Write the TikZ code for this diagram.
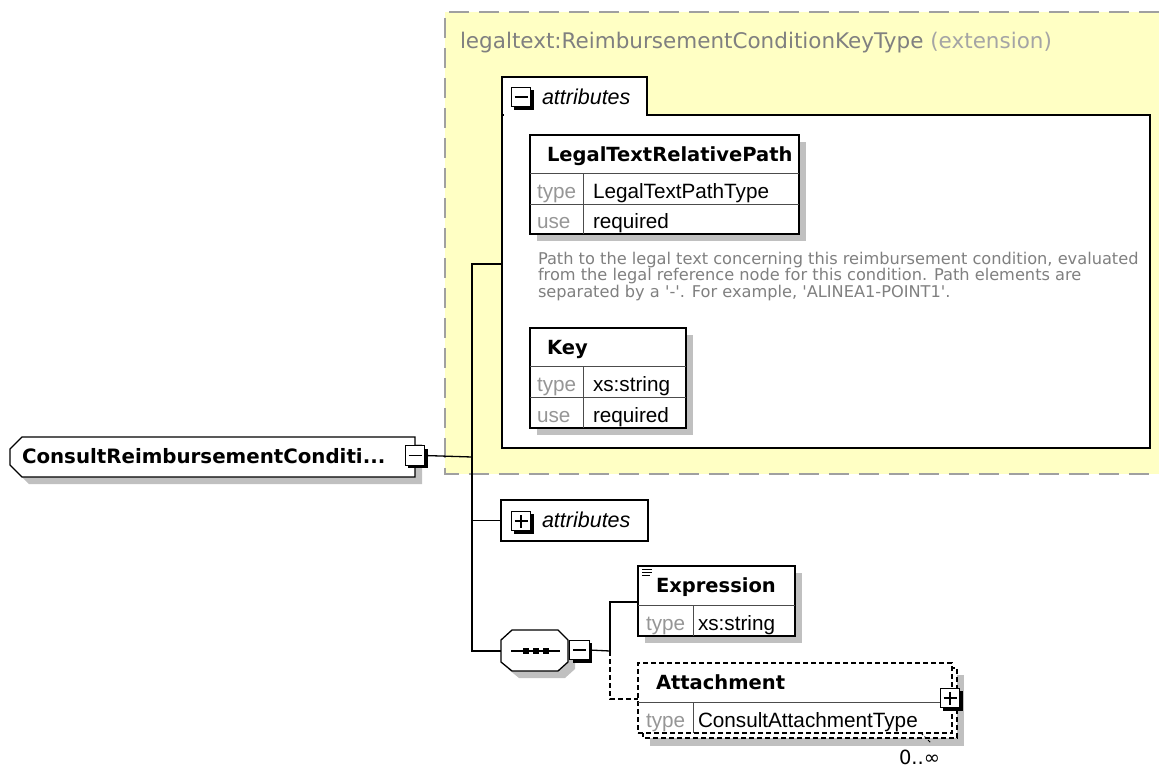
\documentclass[tikz,border=0pt]{standalone}
\usepackage{fontspec}
\setmainfont{DejaVu Sans}
\newfontfamily\cellfont{Liberation Sans}
\usetikzlibrary{positioning, shadows}
\definecolor{extyellow}{RGB}{255,255,196}
\definecolor{extborder}{RGB}{160,160,160}
\definecolor{boxshadow}{RGB}{192,192,192}
\definecolor{titlegray}{RGB}{128,128,128}
\definecolor{lightgray2}{RGB}{165,165,165}
\definecolor{notegray}{RGB}{128,128,128}
\definecolor{labelgray}{RGB}{150,150,150}

\begin{document}
\begin{tikzpicture}[x=1pt, y=-1pt,
      every node/.style={inner sep=0pt, outer sep=0pt},
      elemname/.style={font=\fontsize{19.5}{22}\selectfont\bfseries, anchor=base west},
      cell/.style={font=\cellfont\fontsize{20.7}{24}\selectfont, anchor=base west},
      celllabel/.style={cell, text=labelgray},
      attrlabel/.style={font=\cellfont\itshape\fontsize{21.5}{24}\selectfont, anchor=base west},
      note/.style={font=\fontsize{16.2}{16.5}\selectfont, text=notegray, align=left, anchor=north west},
      tbl/.style={draw=black, line width=1.3pt, fill=white, anchor=north west,
        drop shadow={shadow xshift=7pt, shadow yshift=-7pt, fill=boxshadow, opacity=1}},
      grp/.style={draw=black, line width=1.3pt, fill=white, anchor=north west},
      rowline/.style={draw=black!70, line width=1pt},
      conn/.style={draw=black, line width=1.3pt},
      optconn/.style={conn, dash pattern=on 5pt off 3pt},
      btn/.style={draw=black, line width=1.4pt, fill=white, minimum size=19.5pt,
        drop shadow={shadow xshift=3pt, shadow yshift=-3pt, fill=black, opacity=1}},
      minusbtn/.style={btn, path picture={
        \draw[line width=1.3pt] ([xshift=-6.5pt]path picture bounding box.center) -- ([xshift=6.5pt]path picture bounding box.center);}},
      plusbtn/.style={btn, path picture={
        \draw[line width=1.3pt] ([xshift=-6.5pt]path picture bounding box.center) -- ([xshift=6.5pt]path picture bounding box.center)
                                ([yshift=-6.5pt]path picture bounding box.center) -- ([yshift=6.5pt]path picture bounding box.center);}}
  ]
    \useasboundingbox (0,0) rectangle (1159,769);

    % extension area
    \fill[extyellow] (445,12) rectangle (1159,474);
    \draw[extborder, line width=1.5pt, dash pattern=on 20pt off 10pt] (1159,12) -- (445,12) -- (445,474) -- (1159,474);
    \node[anchor=base west, font=\fontsize{21.5}{24}\selectfont, text=titlegray] (exttitle) at (460,48)
      {legaltext:ReimbursementConditionKeyType \textcolor{lightgray2}{(extension)}};

    % attributes group with tab
    \draw[line width=1.3pt, fill=white] (502,115) -- (502,77) -- (647,77) -- (647,115);
    \node[grp, minimum width=648pt, minimum height=333pt] (attrgroup) at (502,115) {};
    \fill[white] (503.5,113) rectangle (645.5,117);
    \node[minusbtn] (attrbtn) at (521,97) {};
    \node[attrlabel] (attrtitle) at (542,104) {attributes};

    % LegalTextRelativePath
    \node[tbl, minimum width=269pt, minimum height=99pt] (ltrp) at (530,135) {};
    \draw[rowline] (530,173) -- (799,173) (530,204) -- (799,204) (583,173) -- (583,234);
    \node[elemname] (ltrpname) at (547,161) {LegalTextRelativePath};
    \node[celllabel] (ltrptype) at (537,198) {type};
    \node[cell] (ltrptypev) at (593,198) {LegalTextPathType};
    \node[celllabel] (ltrpuse) at (537,228) {use};
    \node[cell] (ltrpusev) at (593,228) {required};
    \node[note] (ltrpnote) at (538,252)
      {Path to the legal text concerning this reimbursement condition, evaluated\\
       from the legal reference node for this condition. Path elements are\\
       separated by a \textquotesingle-\textquotesingle. For example, \textquotesingle ALINEA1-POINT1\textquotesingle.};

    % Key
    \node[tbl, minimum width=156pt, minimum height=100pt] (key) at (530,328) {};
    \draw[rowline] (530,366) -- (686,366) (530,397) -- (686,397) (583,366) -- (583,428);
    \node[elemname] (keyname) at (547,354) {Key};
    \node[celllabel] (keytype) at (537,391) {type};
    \node[cell] (keytypev) at (593,391) {xs:string};
    \node[celllabel] (keyuse) at (537,422) {use};
    \node[cell] (keyusev) at (593,422) {required};

    % root element
    \fill[boxshadow] (29,444) -- (422,444) -- (422,484) -- (29,484) -- (17,472) -- (17,456) -- cycle;
    \draw[line width=1.3pt, fill=white] (22,437) -- (415,437) -- (415,477) -- (22,477) -- (10,465) -- (10,449) -- cycle;
    \node[elemname, font=\fontsize{19.8}{22}\selectfont\bfseries] (rootname) at (22,463) {ConsultReimbursementConditi...};
    \node[minusbtn] (rootbtn) at (415,455.5) {};

    % second attributes
    \node[grp, minimum width=147pt, minimum height=41pt] (attrb) at (501,500) {};
    \node[plusbtn] (attrbbtn) at (521,521) {};
    \node[attrlabel] (attrbtitle) at (542,527) {attributes};

    % sequence compositor
    \fill[boxshadow] (519,637) -- (565,637) -- (575,647) -- (575,669) -- (565,678) -- (519,678) -- (508,669) -- (508,647) -- cycle;
    \draw[line width=1.3pt, fill=white] (512,630) -- (558,630) -- (568,640) -- (568,662) -- (558,671) -- (512,671) -- (501,662) -- (501,640) -- cycle;
    \draw[line width=1.2pt] (511,651) -- (560,651);
    \foreach \x in {525.5,535.5,545.5} {
      \fill (\x-3,648) rectangle (\x+3,654);
    }
    \node[minusbtn] (seqbtn) at (579.5,650) {};

    % Expression
    \node[tbl, minimum width=157pt, minimum height=70pt] (expr) at (638,566) {};
    \draw[rowline] (638,605) -- (795,605) (693,605) -- (693,636);
    \draw[line width=0.8pt] (642,569) -- (652,569) (642,572) -- (652,572) (642,575) -- (650,575);
    \node[elemname] (exprname) at (656,592) {Expression};
    \node[celllabel] (exprtype) at (646,630) {type};
    \node[cell] (exprtypev) at (698,630) {xs:string};

    % Attachment (0..unbounded)
    \fill[boxshadow] (650,675) rectangle (964,746);
    \draw[line width=1.3pt, fill=white, dash pattern=on 5pt off 3pt] (643,668) rectangle (957,738);
    \node[grp, minimum width=314pt, minimum height=70pt, dash pattern=on 5pt off 3pt] (attach) at (638,663) {};
    \draw[rowline] (638,702) -- (940,702) (693,702) -- (693,733);
    \draw[line width=1pt, dash pattern=on 3pt off 2pt] (921,733) -- (931,743);
    \node[elemname] (attachname) at (656,689) {Attachment};
    \node[celllabel] (attachtype) at (646,727) {type};
    \node[cell] (attachtypev) at (698,727) {ConsultAttachmentType};
    \node[plusbtn] (attachbtn) at (950,698) {};
    \node[anchor=base west, font=\fontsize{19.5}{22}\selectfont] (attachocc) at (899,764) {0..∞};

    % connectors
    \coordinate (hub) at (472,457);
    \coordinate (attrin) at (attrgroup.west |- 0,264);
    \coordinate (seqin) at (501,651);
    \coordinate (seqhub) at (610,651);
    \draw[conn] (rootbtn.east) -- (hub);
    \draw[conn] (attrin) -| (hub);
    \draw[conn] (hub) |- (attrb.west);
    \draw[conn] (hub) |- (seqin);
    \draw[conn] (seqbtn.east) -- (seqhub);
    \draw[conn] (seqhub) |- (expr.west |- 0,602);
    \draw[optconn] (seqhub) |- (attach.west |- 0,699);
  \end{tikzpicture}
\end{document}
